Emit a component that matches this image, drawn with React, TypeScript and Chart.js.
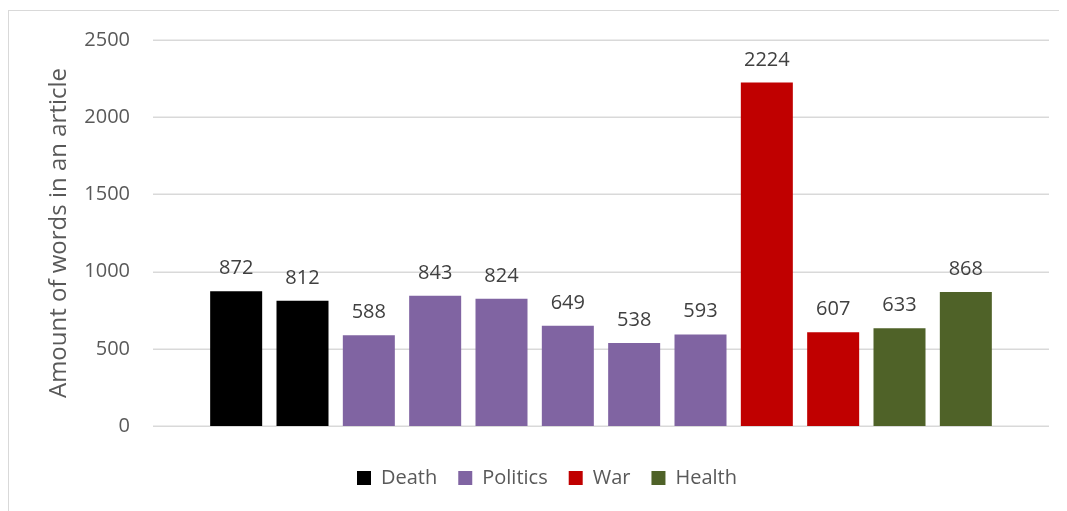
import React, { useEffect, useRef } from "react";
import { Chart, registerables } from "chart.js";

Chart.register(...registerables);

const categories = ["1", "2", "3", "4", "5", "6", "7", "8", "9", "10", "11", "12"];
const deathValues = [872, 812, null, null, null, null, null, null, null, null, null, null];
const politicsValues = [null, null, 588, 843, 824, 649, 538, 593, null, null, null, null];
const warValues = [null, null, null, null, null, null, null, null, 2224, 607, null, null];
const healthValues = [null, null, null, null, null, null, null, null, null, null, 633, 868];
const seriesNames = ["Death", "Politics", "War", "Health"];
const seriesColors = ["#000000", "#8064A2", "#C00000", "#4F6228"];
const yTicks = [0, 500, 1000, 1500, 2000, 2500];
const yTitle = "Amount of words in an article";

const FONT = "'Open Sans', 'DejaVu Sans', sans-serif";

const gridPlugin = {
  id: "extendedGrid",
  beforeDatasetsDraw(chart: any) {
    const { ctx, chartArea, scales } = chart;
    const y = scales.y;
    ctx.save();
    ctx.strokeStyle = "#D9D9D9";
    ctx.lineWidth = 1.5;
    yTicks.forEach((v) => {
      const py = Math.round(y.getPixelForValue(v)) + 0.25;
      ctx.beginPath();
      ctx.moveTo(chartArea.left - 50, py);
      ctx.lineTo(chartArea.right + 50, py);
      ctx.stroke();
    });
    ctx.restore();
  },
};

const labelPlugin = {
  id: "valueLabels",
  afterDatasetsDraw(chart: any) {
    const { ctx } = chart;
    ctx.save();
    ctx.font = `20px ${FONT}`;
    ctx.fillStyle = "#404040";
    ctx.textAlign = "center";
    ctx.textBaseline = "alphabetic";
    chart.data.datasets.forEach((ds: any, di: number) => {
      const meta = chart.getDatasetMeta(di);
      meta.data.forEach((el: any, i: number) => {
        const v = ds.data[i];
        if (v === null || v === undefined) return;
        ctx.fillText(String(v), el.x, el.y - 17);
      });
    });
    ctx.restore();
  },
};

const legendShiftPlugin = {
  id: "legendShift",
  afterLayout(chart: any) {
    const lg = chart.legend;
    if (lg) {
      lg.left += 43;
      lg.right += 43;
    }
  },
};

export default function App() {
  const ref = useRef<HTMLCanvasElement | null>(null);

  useEffect(() => {
    document.documentElement.style.overflow = "hidden";
    const canvas = ref.current;
    if (!canvas) return;
    const datasets = [deathValues, politicsValues, warValues, healthValues].map((d, i) => ({
      label: seriesNames[i],
      data: d,
      backgroundColor: seriesColors[i],
      borderWidth: 0,
      categoryPercentage: 1,
      barPercentage: 0.784,
      skipNull: true,
    }));
    const chart = new Chart(canvas, {
      type: "bar",
      data: { labels: categories, datasets },
      plugins: [gridPlugin, labelPlugin, legendShiftPlugin],
      options: {
        animation: false,
        responsive: false,
        layout: { padding: { left: 0, right: 68, top: 29, bottom: 13 } },
        plugins: {
          tooltip: { enabled: false },
          legend: {
            position: "bottom",
            labels: {
              boxWidth: 14,
              boxHeight: 14,
              padding: 21,
              color: "#595959",
              font: { family: FONT, size: 20 },
            },
          },
        },
        scales: {
          x: {
            stacked: true,
            grid: { display: false, drawTicks: false },
            border: { display: false },
            ticks: { display: false },
            afterFit: (s: any) => {
              s.height = 21;
            },
          },
          y: {
            min: 0,
            max: 2500,
            grid: { display: false, drawTicks: false },
            border: { display: false },
            ticks: {
              stepSize: 500,
              padding: 73,
              color: "#595959",
              font: { family: FONT, size: 20 },
              callback: (v: any) => String(v),
            },
            title: {
              display: true,
              text: yTitle,
              color: "#595959",
              font: { family: FONT, size: 24 },
              padding: { top: 36, bottom: 0 },
            },
            afterFit: (s: any) => {
              s.width = 194;
              s.paddingTop = 0;
              s.paddingBottom = 0;
            },
          },
        },
      },
    } as any);
    return () => chart.destroy();
  }, []);

  return (
    <div style={{ paddingTop: 2 }}>
      <div
        style={{
          width: 1059,
          height: 501,
          borderLeft: "1px solid #D9D9D9",
          borderTop: "1px solid #D9D9D9",
          boxSizing: "border-box",
        }}
      >
        <canvas ref={ref} width={1058} height={500} style={{ display: "block" }} />
      </div>
    </div>
  );
}
